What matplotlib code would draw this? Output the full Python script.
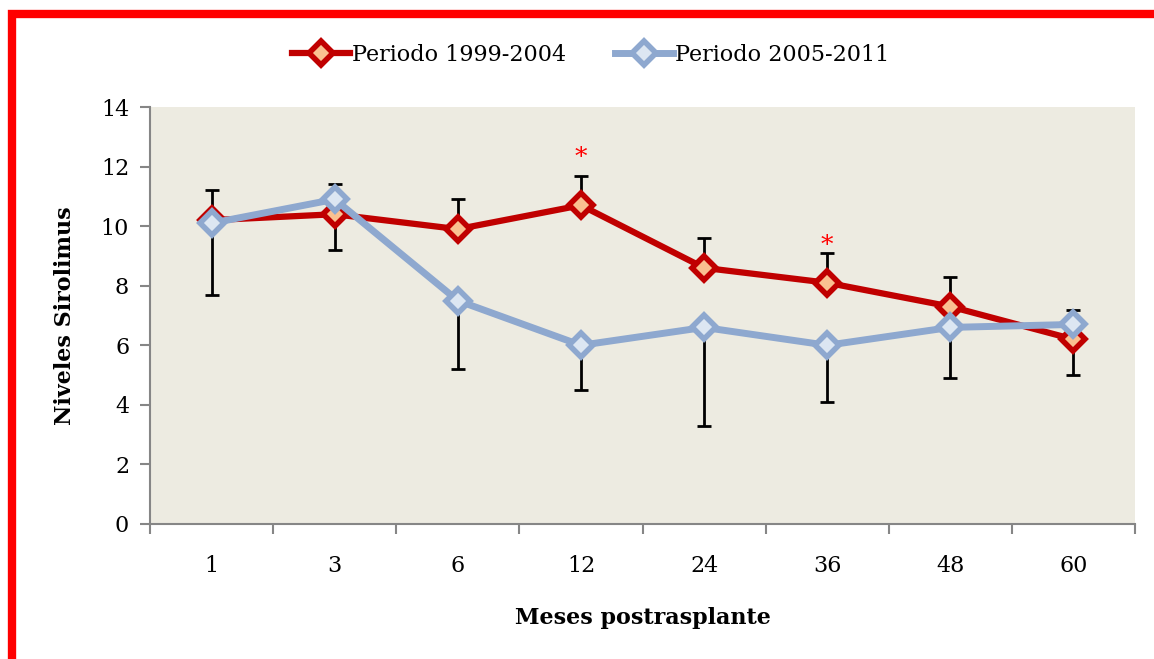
import matplotlib
matplotlib.use("Agg")
import matplotlib.pyplot as plt
from matplotlib.patches import Rectangle
import numpy as np

categories = ["1", "3", "6", "12", "24", "36", "48", "60"]
red_values = [10.2, 10.4, 9.9, 10.7, 8.6, 8.1, 7.3, 6.2]
red_err_upper = [1.0, 0.0, 1.0, 1.0, 1.0, 1.0, 1.0, 0.0]
red_err_lower = [0.0, 1.2, 0.0, 0.0, 0.0, 0.0, 0.0, 1.2]
blue_values = [10.1, 10.9, 7.5, 6.0, 6.6, 6.0, 6.6, 6.7]
blue_err_upper = [0.0, 0.5, 0.0, 0.0, 0.0, 0.0, 0.0, 0.5]
blue_err_lower = [2.4, 0.0, 2.3, 1.5, 3.3, 1.9, 1.7, 0.0]
red_label = "Periodo 1999-2004"
blue_label = "Periodo 2005-2011"
star_categories = ["12", "36"]
star_values = [12.3, 9.35]
y_ticks = [0, 2, 4, 6, 8, 10, 12, 14]

plt.rcParams['font.family'] = ['DejaVu Serif']

fig = plt.figure(figsize=(11.54, 6.59), dpi=100)
W, H = 1154, 659
ax = fig.add_axes([150 / W, 1 - 524 / H, 985 / W, 417 / H])
ax.set_facecolor("#EDEBE1")

x = np.arange(len(categories))

ax.errorbar(x, red_values, yerr=[red_err_lower, red_err_upper], fmt='none',
            ecolor='black', elinewidth=2, capsize=4.7, capthick=2, zorder=2)
ax.errorbar(x, blue_values, yerr=[blue_err_lower, blue_err_upper], fmt='none',
            ecolor='black', elinewidth=2, capsize=4.7, capthick=2, zorder=2)

ax.plot(x, red_values, color='#C00000', lw=4.5, marker='D', markersize=12,
        markerfacecolor='#FAC090', markeredgecolor='#C00000', markeredgewidth=4,
        label=red_label, zorder=3)
ax.plot(x, blue_values, color='#8EA8CF', lw=5, marker='D', markersize=12,
        markerfacecolor='#DCE6F2', markeredgecolor='#8EA8CF', markeredgewidth=4,
        label=blue_label, zorder=4)

for c, v in zip(star_categories, star_values):
    ax.text(categories.index(c), v, "*", color='red', ha='center', va='center', fontsize=18)

ax.set_xlim(-0.5, len(categories) - 0.5)
ax.set_ylim(0, 14)
ax.set_yticks(y_ticks)
ax.set_xticks(x)
ax.set_xticklabels(categories)
ax.set_xticks(np.arange(-0.5, len(categories)), minor=True)
ax.tick_params(axis='x', which='major', length=0, pad=22, labelsize=16)
ax.tick_params(axis='x', which='minor', length=7, width=1.5, color='#868686', direction='out')
ax.tick_params(axis='y', length=7, width=1.5, color='#868686', direction='out', labelsize=16, pad=8)

for s in ['top', 'right']:
    ax.spines[s].set_visible(False)
for s in ['left', 'bottom']:
    ax.spines[s].set_color('#868686')
    ax.spines[s].set_linewidth(1.5)

ax.set_ylabel("Niveles Sirolimus", fontsize=16, fontweight='bold', labelpad=18)
ax.set_xlabel("Meses postrasplante", fontsize=16, fontweight='bold', labelpad=22)

leg = fig.legend(loc='center', bbox_to_anchor=(591 / W, 1 - 55 / H), ncol=2, frameon=False,
                 fontsize=16, handlelength=2.6, handletextpad=0.1, columnspacing=2.2)

fig.patches.append(Rectangle((12 / W, -0.1), 1.2, 1 - 14 / H + 0.1, transform=fig.transFigure,
                             fill=False, edgecolor='#FF0000', linewidth=6, zorder=10))

fig.savefig("out.png", dpi=100)
